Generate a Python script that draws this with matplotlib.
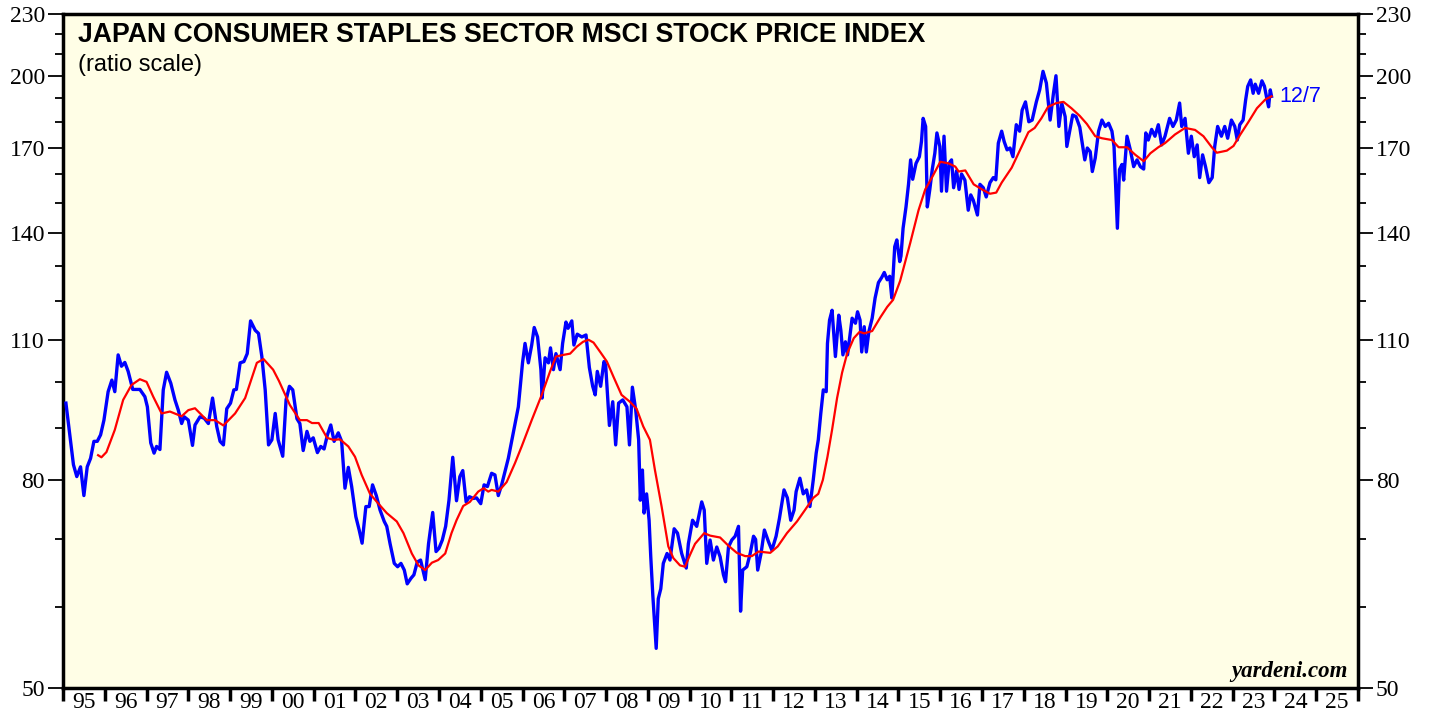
import matplotlib
matplotlib.use("Agg")
import matplotlib.pyplot as plt
from matplotlib.ticker import FixedLocator, NullFormatter, FixedFormatter

# ---------------- data (decimal years, index values) ----------------
blue_t = [1995.07, 1995.25, 1995.33, 1995.42, 1995.50, 1995.58, 1995.66, 1995.74, 1995.82, 1995.90,
          1995.98, 1996.08, 1996.17, 1996.24, 1996.32, 1996.40, 1996.48, 1996.56, 1996.67, 1996.84,
          1996.96, 1997.02, 1997.10, 1997.18, 1997.24, 1997.32, 1997.40, 1997.48, 1997.58, 1997.68,
          1997.76, 1997.84, 1997.90, 1998.00, 1998.10, 1998.16, 1998.28, 1998.38, 1998.48, 1998.58,
          1998.68, 1998.76, 1998.84, 1998.92, 1999.01, 1999.09, 1999.15, 1999.24, 1999.33, 1999.41,
          1999.49, 1999.60, 1999.68, 1999.76, 1999.84, 1999.92, 2000.00, 2000.08, 2000.15, 2000.26,
          2000.34, 2000.42, 2000.50, 2000.60, 2000.67, 2000.75, 2000.84, 2000.91, 2000.99, 2001.09,
          2001.17, 2001.25, 2001.33, 2001.41, 2001.49, 2001.59, 2001.67, 2001.75, 2001.83, 2001.91,
          2002.01, 2002.09, 2002.16, 2002.25, 2002.33, 2002.41, 2002.50, 2002.59, 2002.69, 2002.75,
          2002.83, 2002.93, 2003.01, 2003.09, 2003.17, 2003.24, 2003.33, 2003.40, 2003.48, 2003.56,
          2003.67, 2003.75, 2003.85, 2003.93, 2004.00, 2004.08, 2004.16, 2004.24, 2004.33, 2004.42,
          2004.50, 2004.57, 2004.65, 2004.73, 2004.82, 2004.90, 2005.00, 2005.08, 2005.16, 2005.26,
          2005.34, 2005.42, 2005.50, 2005.66, 2005.78, 2005.90, 2006.00, 2006.06, 2006.14, 2006.22,
          2006.28, 2006.36, 2006.44, 2006.47, 2006.54, 2006.62, 2006.67, 2006.74, 2006.80, 2006.90,
          2006.96, 2007.04, 2007.09, 2007.18, 2007.23, 2007.31, 2007.42, 2007.52, 2007.60, 2007.68,
          2007.74, 2007.79, 2007.87, 2007.95, 2007.99, 2008.08, 2008.16, 2008.23, 2008.30, 2008.40,
          2008.50, 2008.56, 2008.63, 2008.71, 2008.78, 2008.82, 2008.87, 2008.91, 2008.97, 2009.03,
          2009.07, 2009.12, 2009.20, 2009.25, 2009.31, 2009.37, 2009.46, 2009.53, 2009.63, 2009.71,
          2009.81, 2009.92, 2009.97, 2010.07, 2010.17, 2010.29, 2010.35, 2010.41, 2010.49, 2010.57,
          2010.65, 2010.73, 2010.81, 2010.86, 2010.93, 2011.01, 2011.09, 2011.17, 2011.22, 2011.27,
          2011.37, 2011.45, 2011.53, 2011.58, 2011.63, 2011.71, 2011.79, 2011.89, 2011.97, 2012.07,
          2012.15, 2012.26, 2012.34, 2012.42, 2012.50, 2012.55, 2012.64, 2012.72, 2012.80, 2012.88,
          2012.96, 2013.03, 2013.08, 2013.14, 2013.20, 2013.27, 2013.30, 2013.35, 2013.41, 2013.49,
          2013.57, 2013.62, 2013.67, 2013.73, 2013.78, 2013.89, 2013.97, 2014.02, 2014.08, 2014.12,
          2014.18, 2014.23, 2014.29, 2014.37, 2014.44, 2014.52, 2014.60, 2014.66, 2014.73, 2014.79,
          2014.84, 2014.91, 2014.96, 2015.03, 2015.06, 2015.11, 2015.18, 2015.24, 2015.29, 2015.34,
          2015.42, 2015.50, 2015.55, 2015.59, 2015.65, 2015.69, 2015.75, 2015.81, 2015.87, 2015.92,
          2015.99, 2016.03, 2016.09, 2016.15, 2016.21, 2016.27, 2016.32, 2016.39, 2016.45, 2016.51,
          2016.59, 2016.67, 2016.73, 2016.79, 2016.89, 2016.95, 2017.03, 2017.10, 2017.19, 2017.27,
          2017.33, 2017.39, 2017.47, 2017.53, 2017.60, 2017.67, 2017.74, 2017.82, 2017.90, 2017.96,
          2018.04, 2018.12, 2018.20, 2018.30, 2018.38, 2018.46, 2018.54, 2018.63, 2018.71, 2018.77,
          2018.84, 2018.91, 2018.99, 2019.03, 2019.09, 2019.17, 2019.25, 2019.34, 2019.41, 2019.46,
          2019.52, 2019.59, 2019.64, 2019.71, 2019.79, 2019.87, 2019.95, 2020.03, 2020.11, 2020.16,
          2020.24, 2020.29, 2020.35, 2020.39, 2020.47, 2020.55, 2020.63, 2020.71, 2020.79, 2020.87,
          2020.92, 2020.98, 2021.06, 2021.14, 2021.22, 2021.30, 2021.38, 2021.49, 2021.57, 2021.65,
          2021.73, 2021.78, 2021.86, 2021.94, 2022.01, 2022.08, 2022.15, 2022.21, 2022.28, 2022.35,
          2022.43, 2022.51, 2022.57, 2022.64, 2022.73, 2022.81, 2022.88, 2022.97, 2023.05, 2023.11,
          2023.17, 2023.25, 2023.31, 2023.36, 2023.43, 2023.49, 2023.54, 2023.62, 2023.70, 2023.76,
          2023.82, 2023.86, 2023.90, 2023.93]
blue_v = [95.3, 82.9, 80.7, 82.5, 77.3, 82.5, 84.1, 87.4, 87.4, 88.7,
          91.7, 97.8, 100.4, 97.8, 106.3, 103.6, 104.5, 102.4, 98.3, 98.3,
          96.7, 94.5, 87.1, 85.1, 86.4, 85.8, 98.2, 102.2, 99.7, 96.0,
          93.8, 91.0, 92.4, 91.7, 86.6, 90.7, 92.4, 92.1, 91.0, 96.4,
          90.4, 87.4, 86.7, 94.1, 95.3, 98.2, 98.3, 104.4, 104.7, 106.6,
          114.8, 112.4, 111.6, 105.9, 98.2, 86.7, 87.7, 93.1, 87.7, 84.5,
          96.0, 99.0, 98.2, 92.0, 91.0, 85.6, 89.4, 87.4, 88.1, 85.2,
          86.4, 85.9, 88.7, 90.7, 87.4, 89.1, 87.4, 78.6, 82.4, 78.9,
          73.7, 71.5, 69.4, 75.4, 75.4, 79.2, 77.3, 74.8, 72.9, 72.1,
          69.3, 66.3, 65.8, 66.3, 65.3, 63.3, 64.1, 64.6, 66.5, 66.8,
          63.9, 69.3, 74.4, 68.1, 68.6, 69.9, 72.1, 76.5, 84.3, 76.4,
          80.7, 81.8, 76.2, 77.1, 76.8, 76.9, 75.9, 79.2, 78.9, 81.3,
          81.0, 77.3, 79.2, 84.1, 89.1, 94.5, 104.4, 109.1, 104.4, 108.7,
          113.1, 110.7, 102.8, 96.4, 105.6, 104.4, 108.0, 102.8, 106.6, 102.8,
          109.1, 114.5, 112.9, 114.8, 108.7, 111.4, 110.7, 111.2, 103.3, 99.0,
          97.1, 102.4, 99.0, 104.7, 103.9, 90.6, 95.6, 86.7, 95.3, 96.0,
          94.5, 86.7, 98.8, 93.8, 87.7, 76.5, 81.9, 74.3, 77.6, 73.1,
          67.3, 61.6, 54.7, 61.2, 62.6, 66.3, 67.8, 66.8, 71.7, 71.0,
          67.8, 65.6, 69.3, 73.1, 72.1, 76.2, 74.8, 66.3, 69.9, 66.8,
          68.8, 67.3, 64.6, 63.6, 68.8, 69.9, 70.5, 72.1, 59.5, 65.3,
          65.8, 67.8, 70.5, 70.0, 65.3, 67.8, 71.5, 69.6, 68.3, 70.5,
          73.4, 78.3, 76.9, 73.1, 74.8, 78.0, 80.4, 77.6, 78.3, 75.4,
          80.1, 85.1, 87.7, 93.1, 98.2, 97.8, 109.1, 115.0, 117.6, 105.9,
          116.3, 112.4, 106.3, 109.5, 106.3, 115.5, 114.2, 117.2, 115.0, 107.0,
          113.3, 107.0, 112.0, 115.5, 120.9, 125.2, 126.7, 128.1, 126.0, 127.0,
          120.9, 135.8, 137.9, 131.3, 133.0, 141.6, 148.6, 156.4, 165.3, 158.2,
          164.0, 166.5, 172.3, 181.6, 178.3, 148.6, 154.6, 161.9, 167.8, 175.7,
          170.4, 154.0, 174.4, 154.0, 164.0, 165.3, 155.2, 161.3, 154.6, 160.1,
          157.9, 147.5, 152.7, 150.9, 145.9, 156.4, 155.2, 152.0, 157.0, 158.8,
          158.0, 171.7, 176.4, 172.3, 169.1, 169.8, 166.5, 179.0, 176.4, 185.0,
          188.5, 180.2, 180.9, 188.5, 193.7, 202.0, 196.7, 180.9, 192.2, 200.0,
          178.3, 187.8, 182.3, 170.4, 175.7, 183.0, 182.3, 178.0, 170.4, 165.3,
          169.8, 168.4, 161.0, 166.0, 176.4, 180.9, 178.3, 179.6, 176.4, 170.4,
          141.6, 161.7, 163.6, 157.9, 174.4, 169.1, 162.8, 165.3, 162.8, 161.9,
          175.7, 172.9, 177.1, 174.4, 179.0, 171.0, 174.4, 181.6, 178.3, 180.9,
          188.0, 178.3, 181.6, 167.8, 174.4, 166.5, 171.0, 158.8, 167.2, 162.8,
          157.0, 158.8, 170.4, 178.3, 174.4, 178.3, 173.6, 180.9, 178.3, 172.9,
          179.0, 180.9, 189.3, 195.2, 198.1, 192.2, 196.2, 192.2, 197.7, 195.3,
          189.7, 186.4, 193.7, 190.9]

red_t = [1995.84, 1995.92, 1996.04, 1996.24, 1996.44, 1996.64, 1996.84, 1997.00, 1997.16, 1997.36,
         1997.56, 1997.84, 1998.00, 1998.16, 1998.44, 1998.64, 1998.84, 1999.12, 1999.36, 1999.64,
         1999.80, 2000.03, 2000.17, 2000.43, 2000.67, 2000.84, 2000.96, 2001.12, 2001.32, 2001.47,
         2001.63, 2001.83, 2001.99, 2002.15, 2002.35, 2002.55, 2002.75, 2002.99, 2003.15, 2003.35,
         2003.51, 2003.67, 2003.83, 2003.98, 2004.15, 2004.30, 2004.42, 2004.58, 2004.74, 2004.94,
         2005.07, 2005.18, 2005.26, 2005.42, 2005.62, 2005.82, 2005.98, 2006.22, 2006.46, 2006.66,
         2006.80, 2006.98, 2007.14, 2007.30, 2007.45, 2007.58, 2007.70, 2007.86, 2008.02, 2008.18,
         2008.37, 2008.57, 2008.73, 2008.89, 2009.05, 2009.17, 2009.33, 2009.49, 2009.61, 2009.77,
         2009.89, 2010.01, 2010.13, 2010.35, 2010.49, 2010.73, 2010.93, 2011.13, 2011.33, 2011.49,
         2011.65, 2011.93, 2012.11, 2012.33, 2012.57, 2012.77, 2012.96, 2013.08, 2013.19, 2013.30,
         2013.41, 2013.53, 2013.65, 2013.77, 2013.93, 2014.07, 2014.18, 2014.37, 2014.57, 2014.73,
         2014.87, 2015.04, 2015.28, 2015.48, 2015.64, 2015.80, 2016.00, 2016.20, 2016.36, 2016.44,
         2016.60, 2016.80, 2017.00, 2017.19, 2017.34, 2017.47, 2017.71, 2017.91, 2018.11, 2018.26,
         2018.42, 2018.58, 2018.78, 2018.95, 2019.14, 2019.34, 2019.51, 2019.71, 2019.87, 2020.11,
         2020.27, 2020.47, 2020.67, 2020.87, 2021.03, 2021.22, 2021.38, 2021.62, 2021.86, 2022.10,
         2022.30, 2022.50, 2022.62, 2022.86, 2023.02, 2023.18, 2023.38, 2023.58, 2023.78, 2023.93]
red_v = [84.7, 84.3, 85.3, 89.7, 96.0, 99.3, 100.6, 100.0, 96.7, 93.1,
         93.5, 92.5, 93.8, 94.2, 91.7, 91.7, 90.6, 93.1, 96.4, 104.4,
         105.3, 102.8, 100.2, 94.9, 91.7, 91.7, 91.1, 91.1, 88.1, 87.7,
         87.8, 86.4, 84.4, 81.0, 77.6, 75.9, 74.3, 72.9, 71.0, 67.8,
         66.0, 65.3, 66.4, 66.8, 67.8, 71.0, 73.1, 75.5, 76.2, 78.0,
         78.6, 78.0, 78.3, 78.0, 79.7, 83.2, 86.4, 91.7, 97.1, 102.4,
         105.9, 106.3, 106.6, 108.3, 109.5, 110.0, 109.3, 107.0, 104.7, 101.1,
         97.1, 95.6, 94.1, 90.4, 87.7, 81.9, 75.4, 68.9, 67.1, 66.0,
         65.8, 67.6, 69.3, 71.0, 70.6, 70.3, 69.0, 67.9, 67.4, 67.4,
         68.1, 67.9, 68.9, 71.0, 72.9, 74.9, 76.9, 77.6, 80.1, 84.4,
         89.7, 96.4, 102.1, 106.6, 110.4, 112.0, 111.6, 112.2, 115.8, 118.5,
         120.4, 125.7, 136.9, 147.5, 154.6, 158.8, 164.6, 164.0, 162.8, 161.0,
         161.4, 156.4, 154.6, 153.1, 153.5, 157.0, 162.4, 169.1, 176.0, 177.7,
         181.6, 186.4, 188.0, 188.5, 185.8, 182.6, 179.3, 174.4, 173.6, 172.9,
         170.1, 170.1, 167.2, 164.8, 167.8, 170.1, 171.7, 175.1, 177.7, 176.9,
         174.4, 170.1, 168.0, 168.8, 170.6, 175.0, 180.2, 185.8, 189.5, 190.9]

years = list(range(1995, 2026))
year_labels = [f"{y % 100:02d}" for y in years]
y_major = [50, 80, 110, 140, 170, 200, 230]
y_minor = [60, 70, 90, 100, 120, 130, 150, 160, 180, 190, 210, 220]

title = "JAPAN CONSUMER STAPLES SECTOR MSCI STOCK PRICE INDEX"
subtitle = "(ratio scale)"
end_label = "12/7"
source = "yardeni.com"

# ---------------- figure ----------------
W, H = 1429, 719
fig = plt.figure(figsize=(W / 100, H / 100), dpi=100)
fig.patch.set_facecolor("white")
L, R, T, B = 63, 1358, 14, 688
ax = fig.add_axes([L / W, (H - B) / H, (R - L) / W, (B - T) / H])
ax.set_facecolor("#fffee6")

ax.plot(blue_t, blue_v, color="#0000ff", lw=2.4, solid_joinstyle="round", zorder=3)
ax.plot(red_t, red_v, color="#ff0000", lw=1.6, zorder=4)

ax.set_yscale("log")
ax.set_ylim(50, 230)
ax.set_xlim(1995, 2026)

serif = ["Liberation Serif", "DejaVu Serif"]
sans = ["Liberation Sans", "DejaVu Sans"]

ax.yaxis.set_major_locator(FixedLocator(y_major))
ax.yaxis.set_major_formatter(FixedFormatter([str(v) for v in y_major]))
ax.yaxis.set_minor_locator(FixedLocator(y_minor))
ax.yaxis.set_minor_formatter(NullFormatter())
ax.tick_params(axis="y", which="major", direction="out", length=11, width=1.3,
               left=True, right=True, labelleft=True, labelright=True, labelsize=17, pad=2)
ax.tick_params(axis="y", which="minor", direction="out", length=6, width=1.3,
               left=True, right=True)

ax.xaxis.set_major_locator(FixedLocator(years + [2026]))
ax.xaxis.set_major_formatter(NullFormatter())
ax.xaxis.set_minor_locator(FixedLocator([y + 0.5 for y in years]))
ax.xaxis.set_minor_formatter(FixedFormatter(year_labels))
ax.tick_params(axis="x", which="major", direction="out", length=9, width=2.5, bottom=True, top=False)
ax.tick_params(axis="x", which="minor", length=0, labelsize=17, pad=3)

for lab in ax.get_yticklabels() + ax.get_xticklabels(minor=True):
    lab.set_fontfamily(serif)

for s in ax.spines.values():
    s.set_linewidth(2.5)
    s.set_color("black")

ax.text((78 - L) / (R - L), 1 - (35 - T) / (B - T), title, transform=ax.transAxes,
        fontsize=19.2, fontweight="bold", family=sans, va="center", ha="left", color="black")
ax.text((78 - L) / (R - L), 1 - (65 - T) / (B - T), subtitle, transform=ax.transAxes,
        fontsize=17, family=sans, va="center", ha="left", color="black")
ax.text((1348 - L) / (R - L), 1 - (672 - T) / (B - T), source, transform=ax.transAxes,
        fontsize=16.5, fontweight="bold", fontstyle="italic", family=serif,
        va="center", ha="right", color="black")
ax.annotate(end_label, xy=(blue_t[-1], blue_v[-1]), xytext=(6, 0), textcoords="offset points",
            fontsize=15.5, family=sans, color="#0000ff", va="center", ha="left")

fig.savefig("out.png", dpi=100, facecolor="white")
